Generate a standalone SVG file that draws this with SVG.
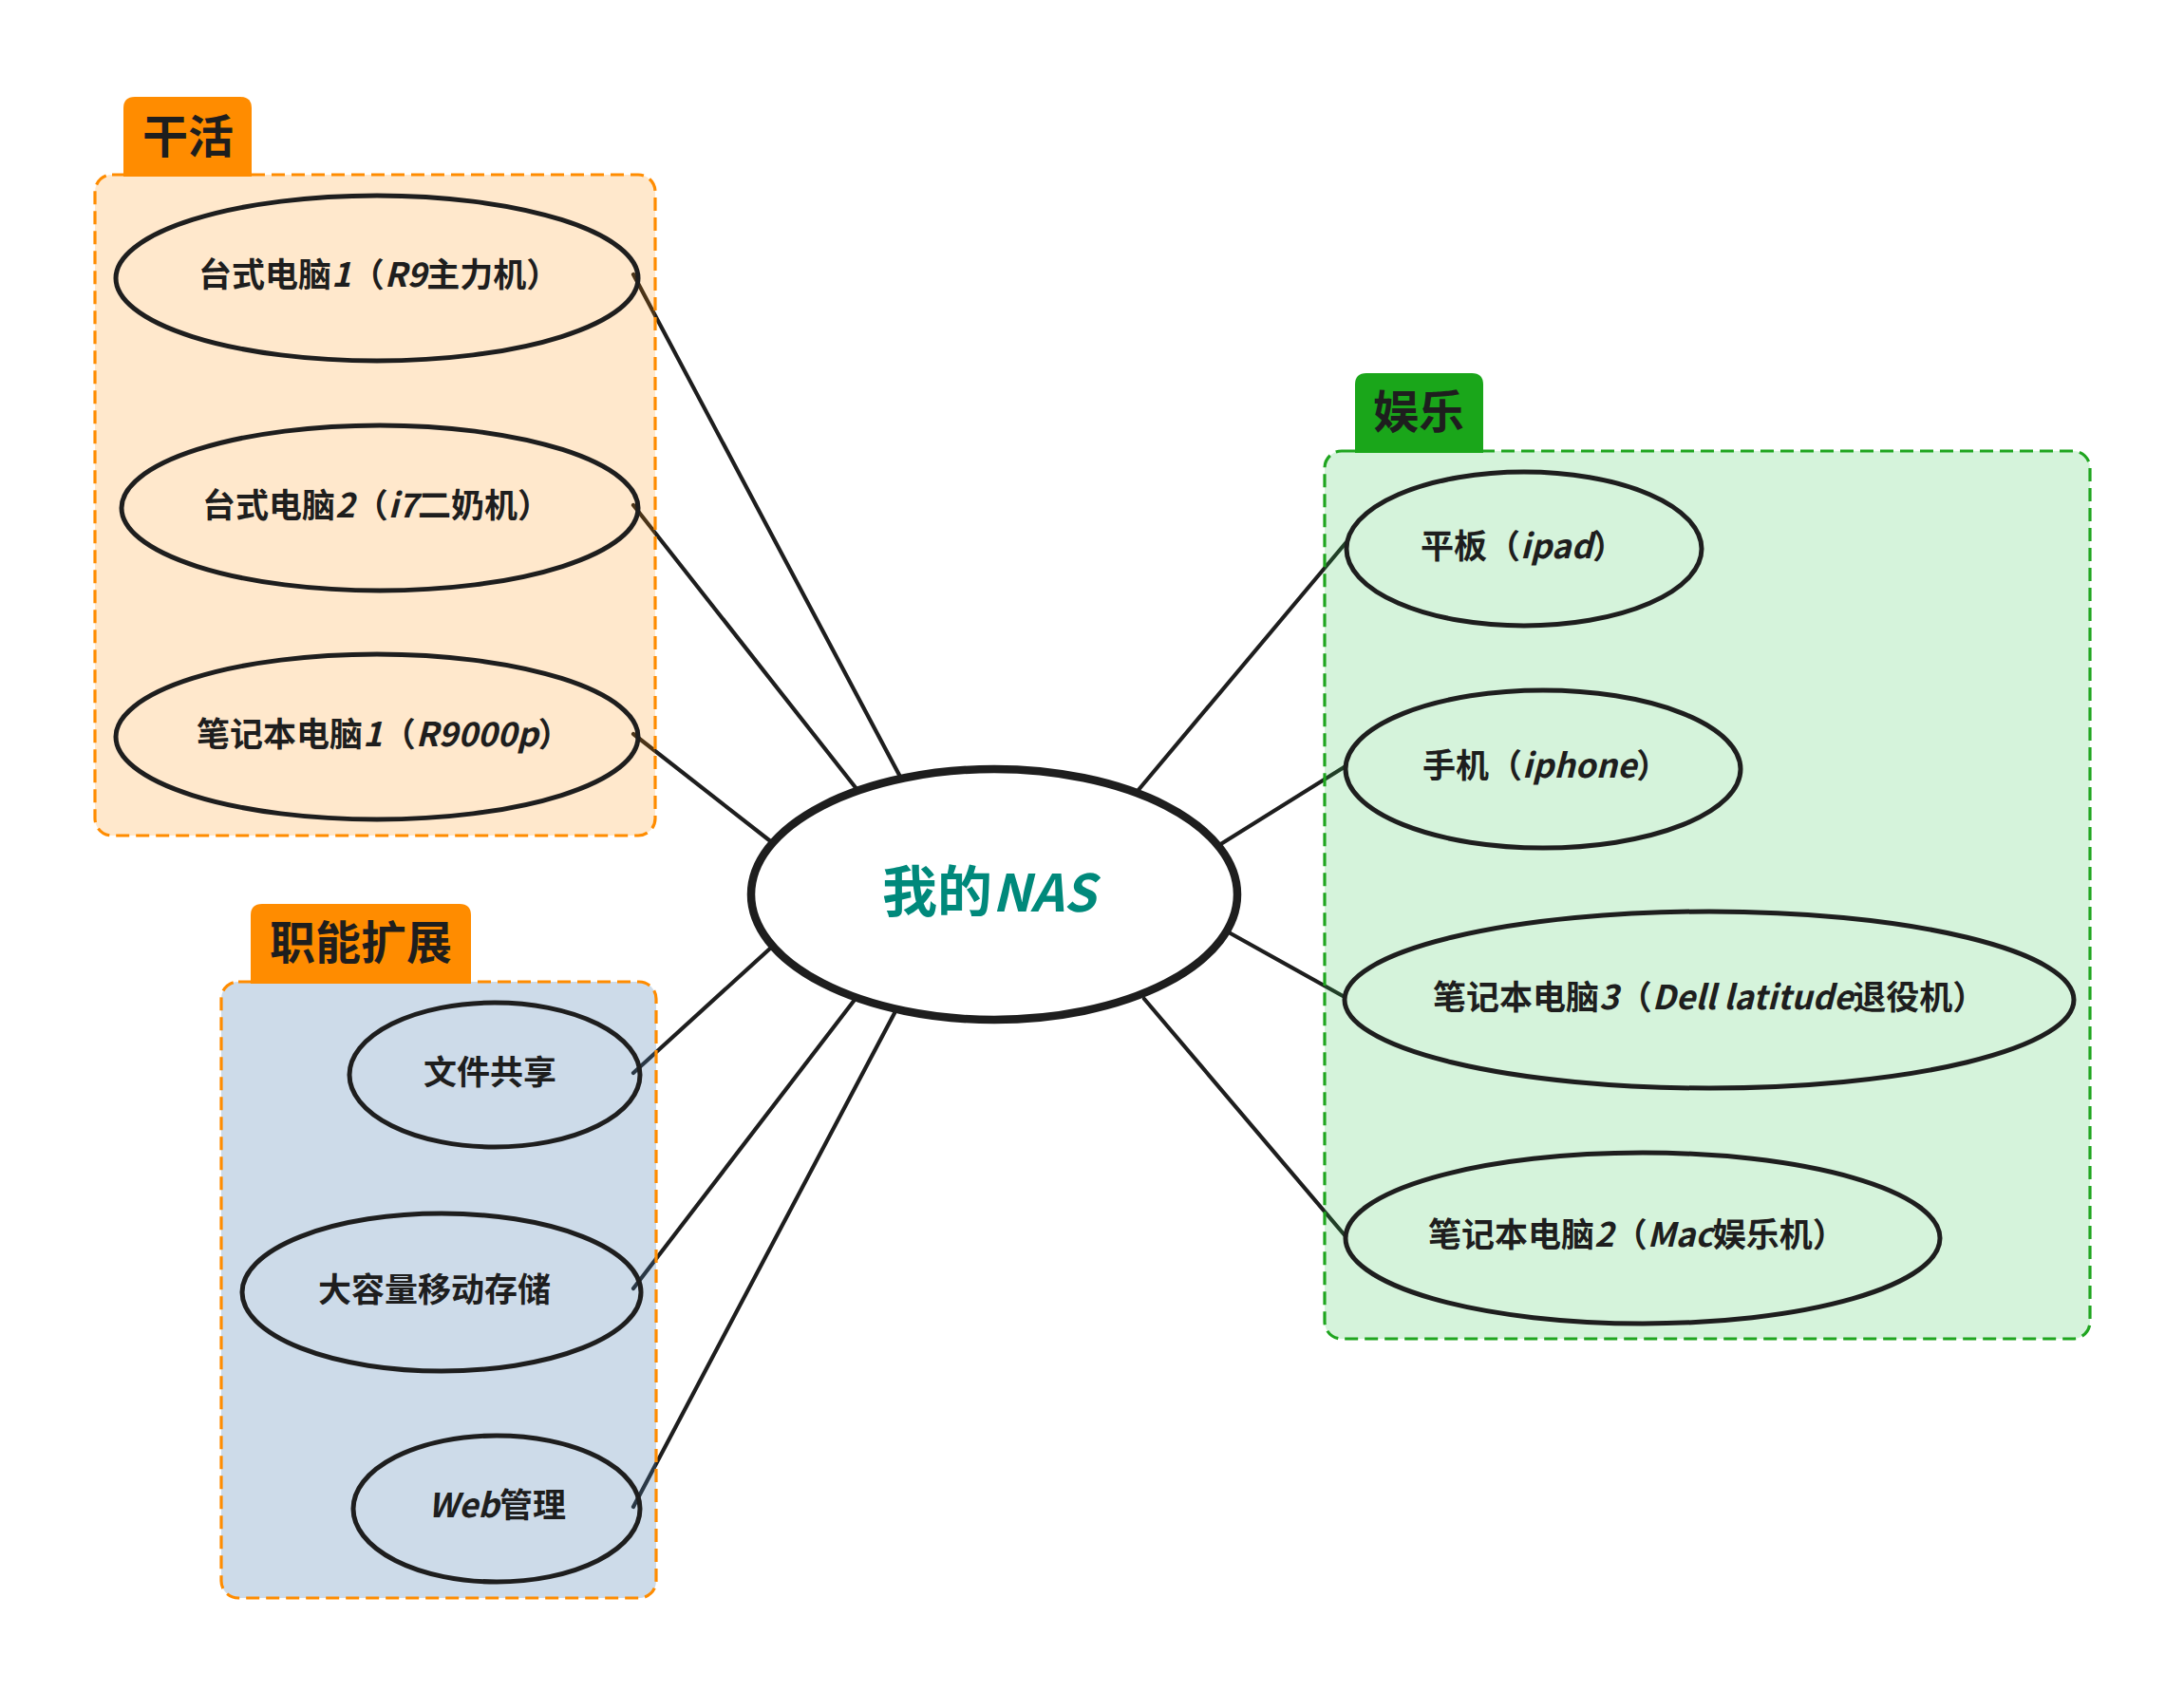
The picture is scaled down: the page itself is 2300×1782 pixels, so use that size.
<svg xmlns="http://www.w3.org/2000/svg" width="2300" height="1782" viewBox="0 0 2300 1782">
<style>
.bg{fill:#ffffff}
.conn line{stroke:#1e1e1e;stroke-width:4.2;stroke-linecap:round}
.box{stroke-width:3.2;stroke-dasharray:14 7}
.box-o{fill:#ff8c00;fill-opacity:0.2;stroke:#ff8c00}
.box-b{fill:#4a7fb0;fill-opacity:0.28;stroke:#ff8c00}
.box-g{fill:#2fc34b;fill-opacity:0.2;stroke:#1fa51f}
.tab-o{fill:#ff8c00}
.tab-g{fill:#1aa61a}
.tabtxt{font-family:"Noto Sans CJK SC","Noto Sans",sans-serif;font-weight:700;font-size:48px;fill:#1e1e1e}
.node ellipse{fill:none;stroke:#1e1e1e;stroke-width:5}
.lbl{font-family:"Noto Sans CJK SC","Noto Sans",sans-serif;font-weight:700;font-size:35px;fill:#1e1e1e}
.lat{font-style:italic}
.hub{fill:#ffffff;stroke:#1e1e1e;stroke-width:8.5}
.hubtxt{font-family:"Noto Sans CJK SC","Noto Sans",sans-serif;font-weight:700;font-size:58px;fill:#00897b}
</style>
<rect class="bg" x="0" y="0" width="2300" height="1782"/>

<g id="connectors" class="conn">
<line x1="948" y1="818" x2="667" y2="289"/>
<line x1="903" y1="832" x2="667" y2="532"/>
<line x1="814" y1="888" x2="667" y2="773"/>
<line x1="812" y1="998" x2="667" y2="1130"/>
<line x1="900" y1="1053" x2="667" y2="1357"/>
<line x1="942" y1="1067" x2="667" y2="1587"/>
<line x1="1198" y1="833" x2="1417" y2="572"/>
<line x1="1284" y1="890" x2="1417" y2="807"/>
<line x1="1294" y1="982" x2="1416" y2="1050"/>
<line x1="1205" y1="1052" x2="1417" y2="1302"/>
</g>

<g id="group-work">
<rect class="box box-o" x="100" y="184" width="590" height="696" rx="18"/>
<path class="tab-o" d="M130,186 V114 Q130,102 142,102 H253 Q265,102 265,114 V186 Z"/>
<text class="tabtxt" x="150" y="161">干活</text>
</g>

<g id="group-ext">
<rect class="box box-b" x="233" y="1034" width="458" height="649" rx="18"/>
<path class="tab-o" d="M264,1036 V964 Q264,952 276,952 H484 Q496,952 496,964 V1036 Z"/>
<text class="tabtxt" x="284" y="1010">职能扩展</text>
</g>

<g id="group-fun">
<rect class="box box-g" x="1395" y="475" width="806" height="935" rx="18"/>
<path class="tab-g" d="M1427,477 V405 Q1427,393 1439,393 H1550 Q1562,393 1562,405 V477 Z"/>
<text class="tabtxt" x="1446" y="451">娱乐</text>
</g>

<g id="node-pc1" class="node">
<ellipse cx="397" cy="293" rx="275" ry="87"/>
<text class="lbl" x="209" y="302">台式电脑<tspan class="lat">1</tspan>（<tspan class="lat">R9</tspan>主力机）</text>
</g>
<g id="node-pc2" class="node">
<ellipse cx="400" cy="535" rx="272" ry="87"/>
<text class="lbl" x="213" y="545">台式电脑<tspan class="lat">2</tspan>（<tspan class="lat">i7</tspan>二奶机）</text>
</g>
<g id="node-laptop1" class="node">
<ellipse cx="397" cy="776" rx="275" ry="87"/>
<text class="lbl" x="207" y="786">笔记本电脑<tspan class="lat">1</tspan>（<tspan class="lat">R9000p</tspan>）</text>
</g>

<g id="node-share" class="node">
<ellipse cx="521" cy="1132" rx="153" ry="76"/>
<text class="lbl" x="446" y="1142">文件共享</text>
</g>
<g id="node-storage" class="node">
<ellipse cx="465" cy="1361" rx="210" ry="83"/>
<text class="lbl" x="335" y="1371">大容量移动存储</text>
</g>
<g id="node-web" class="node">
<ellipse cx="523" cy="1589" rx="151" ry="77"/>
<text class="lbl" x="451" y="1598"><tspan class="lat">Web</tspan>管理</text>
</g>

<g id="node-ipad" class="node">
<ellipse cx="1605" cy="578" rx="187" ry="81"/>
<text class="lbl" x="1496" y="588">平板（<tspan class="lat">ipad</tspan>）</text>
</g>
<g id="node-iphone" class="node">
<ellipse cx="1625" cy="810" rx="208" ry="83"/>
<text class="lbl" x="1498" y="819">手机（<tspan class="lat">iphone</tspan>）</text>
</g>
<g id="node-laptop3" class="node">
<ellipse cx="1800" cy="1053" rx="384" ry="93"/>
<text class="lbl" x="1509" y="1063">笔记本电脑<tspan class="lat">3</tspan>（<tspan class="lat">Dell latitude</tspan>退役机）</text>
</g>
<g id="node-laptop2" class="node">
<ellipse cx="1730" cy="1304" rx="313" ry="90"/>
<text class="lbl" x="1504" y="1313">笔记本电脑<tspan class="lat">2</tspan>（<tspan class="lat">Mac</tspan>娱乐机）</text>
</g>

<g id="node-nas">
<ellipse class="hub" cx="1047" cy="942" rx="256" ry="132"/>
<text class="hubtxt" x="929" y="960">我的<tspan class="lat" font-size="54px">NAS</tspan></text>
</g>
</svg>
